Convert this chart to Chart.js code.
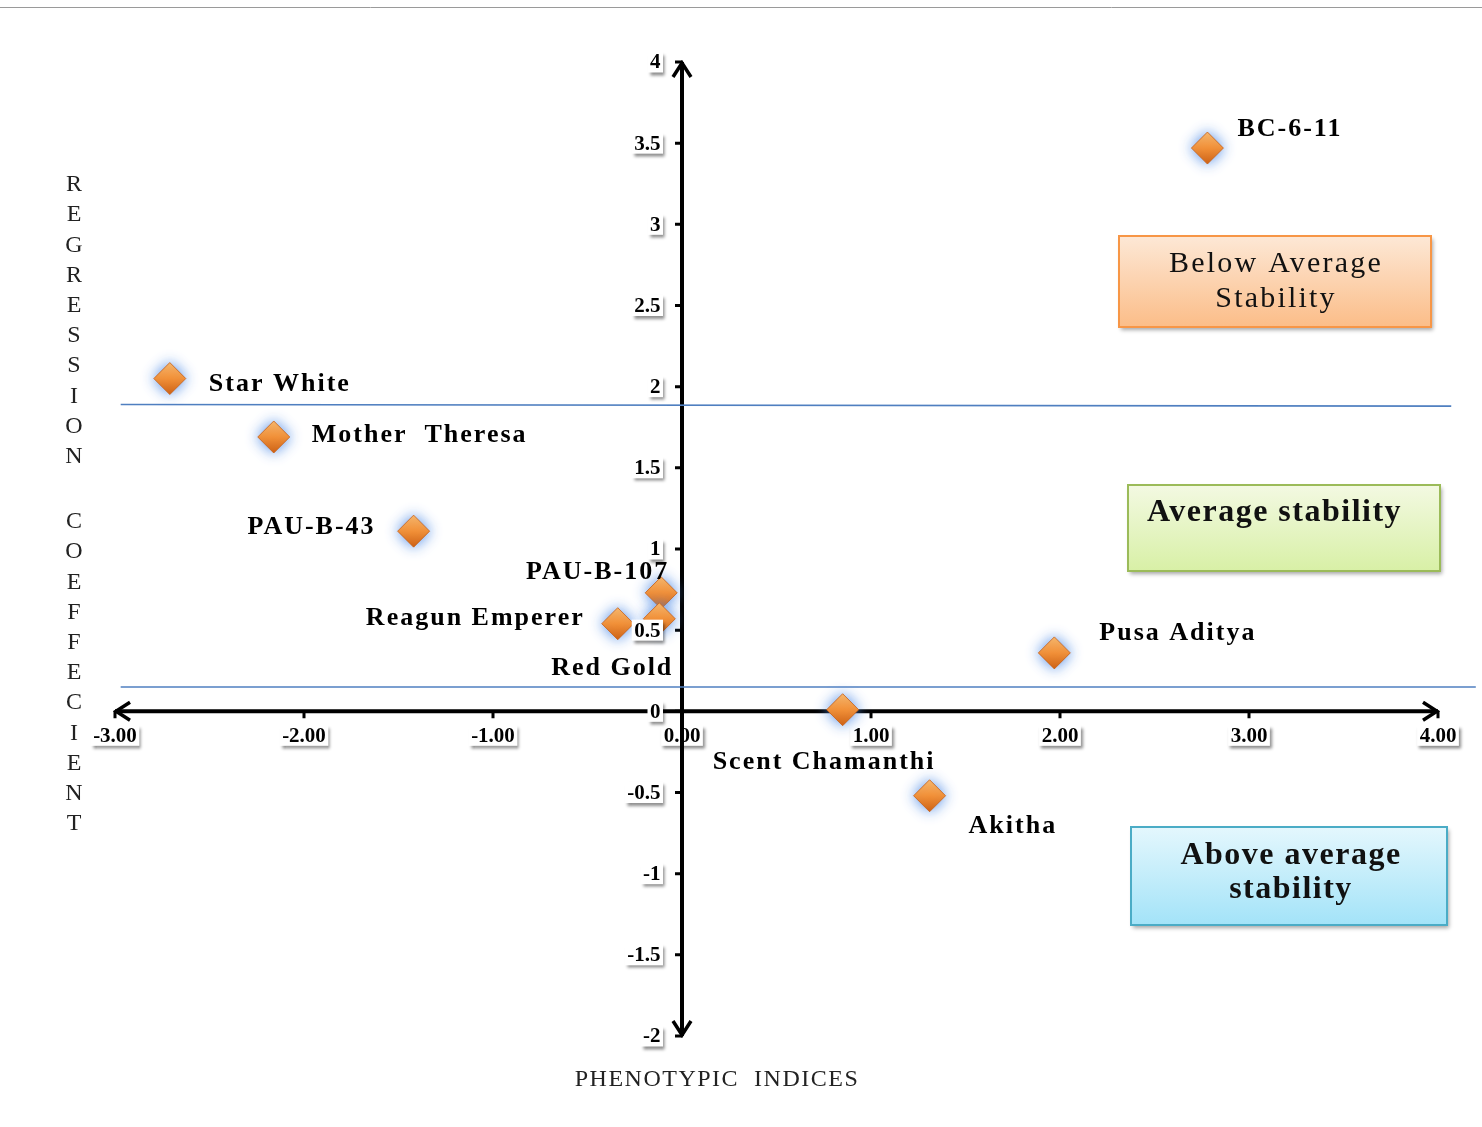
<!DOCTYPE html>
<html lang="en">
<head>
  <meta charset="UTF-8">
  <title>Regression coefficient vs phenotypic indices</title>
  <script src="https://cdn.jsdelivr.net/npm/chart.js"></script>
  <style>
    body { margin: 0; background: #fff; }
    #wrap { width: 1482px; height: 1127px; }
  </style>
</head>
<body>
  <div id="wrap">
    <canvas id="chart" width="1482" height="1127"></canvas>
  </div>

  <script>
    // data
    const varieties = ['BC-6-11', 'Star White', 'Mother  Theresa', 'PAU-B-43', 'PAU-B-107',
                       'Red Gold', 'Reagun Emperer', 'Pusa Aditya', 'Scent Chamanthi', 'Akitha'];
    const phenoIndex = [2.78, -2.71, -2.16, -1.42, -0.11, -0.12, -0.34, 1.97, 0.85, 1.31];
    const regCoef    = [3.47, 2.05, 1.69, 1.11, 0.73, 0.57, 0.54, 0.36, 0.01, -0.52];

    const xTicks = [-3, -2, -1, 0, 1, 2, 3, 4];
    const yTicks = [-2, -1.5, -1, -0.5, 0, 0.5, 1, 1.5, 2, 2.5, 3, 3.5, 4];

    // the two blue reference lines
    const upperLineX = [-2.97, 4.07];
    const upperLineY = [1.89, 1.88];
    const lowerLineX = [-2.97, 4.20];
    const lowerLineY = [0.15, 0.15];

    // label placement relative to each marker: [dx, dy, align]
    const labelPos = [
      [30, -19, 'left'], [39, 6, 'left'], [38, -2, 'left'], [-38, -4, 'right'], [8, -21, 'right'],
      [14, 49, 'right'], [-33, -5, 'right'], [45, -20, 'left'], [-130, 53, 'left'], [39, 31, 'left']
    ];

    const SERIF = '"Liberation Serif", "Times New Roman", serif';

    function diamondFill(c) {
      const chart = c.chart;
      const ys = chart.scales && chart.scales.y;
      if (c.type !== 'data' || !ys) return '#f58a2e';
      const py = ys.getPixelForValue(regCoef[c.dataIndex]);
      if (!isFinite(py)) return '#f58a2e';
      const g = chart.ctx.createLinearGradient(0, py - 16, 0, py + 16);
      g.addColorStop(0, '#fdb866');
      g.addColorStop(0.5, '#f79133');
      g.addColorStop(1, '#d4600c');
      return g;
    }

    function boxedText(ctx, text, x, y, align) {
      ctx.font = 'bold 21px ' + SERIF;
      const w = ctx.measureText(text).width + 5;
      const h = 21;
      const left = align === 'right' ? x - w : x - w / 2;
      ctx.save();
      ctx.shadowColor = 'rgba(0,0,0,0.45)';
      ctx.shadowBlur = 3;
      ctx.shadowOffsetX = 2;
      ctx.shadowOffsetY = 3;
      ctx.fillStyle = '#fff';
      ctx.fillRect(left, y - h / 2, w, h);
      ctx.restore();
      ctx.fillStyle = '#000';
      ctx.textAlign = 'center';
      ctx.textBaseline = 'middle';
      ctx.fillText(text, left + w / 2, y + 1);
    }

    function zoneBox(ctx, x, y, w, h, top, bottom, border) {
      ctx.save();
      ctx.shadowColor = 'rgba(0,0,0,0.35)';
      ctx.shadowBlur = 4;
      ctx.shadowOffsetX = 2;
      ctx.shadowOffsetY = 3;
      const g = ctx.createLinearGradient(0, y, 0, y + h);
      g.addColorStop(0, top);
      g.addColorStop(1, bottom);
      ctx.fillStyle = g;
      ctx.fillRect(x, y, w, h);
      ctx.restore();
      ctx.strokeStyle = border;
      ctx.lineWidth = 2;
      ctx.strokeRect(x, y, w, h);
    }

    const axesPlugin = {
      id: 'crossAxes',
      beforeDraw(chart) {
        const ctx = chart.ctx;
        ctx.save();
        ctx.strokeStyle = '#9a9a9a';
        ctx.lineWidth = 1;
        ctx.beginPath();
        ctx.moveTo(0, 7.5);
        ctx.lineTo(chart.width, 7.5);
        ctx.stroke();
        ctx.restore();
      },
      beforeDatasetsDraw(chart) {
        const ctx = chart.ctx;
        const xs = chart.scales.x, ys = chart.scales.y;
        const x0 = xs.getPixelForValue(0), y0 = ys.getPixelForValue(0);
        ctx.save();
        // x tick labels (under the axis lines)
        xTicks.forEach(v => boxedText(ctx, v.toFixed(2), xs.getPixelForValue(v), y0 + 24, 'center'));

        ctx.strokeStyle = '#000';
        ctx.lineWidth = 4;
        ctx.lineCap = 'butt';
        const xl = xs.getPixelForValue(xTicks[0]), xr = xs.getPixelForValue(xTicks[xTicks.length - 1]);
        const yt = ys.getPixelForValue(yTicks[yTicks.length - 1]), yb = ys.getPixelForValue(yTicks[0]);
        ctx.beginPath();
        ctx.moveTo(xl, y0); ctx.lineTo(xr, y0);
        ctx.moveTo(x0, yb); ctx.lineTo(x0, yt);
        ctx.stroke();

        // arrow heads
        ctx.lineWidth = 3.5;
        ctx.lineJoin = 'miter';
        ctx.beginPath();
        ctx.moveTo(x0 - 9, yt + 15); ctx.lineTo(x0, yt + 1); ctx.lineTo(x0 + 9, yt + 15);
        ctx.moveTo(x0 - 9, yb - 15); ctx.lineTo(x0, yb - 1); ctx.lineTo(x0 + 9, yb - 15);
        ctx.moveTo(xr - 15, y0 - 9); ctx.lineTo(xr - 1, y0); ctx.lineTo(xr - 15, y0 + 9);
        ctx.moveTo(xl + 15, y0 - 9); ctx.lineTo(xl + 1, y0); ctx.lineTo(xl + 15, y0 + 9);
        ctx.stroke();

        // tick marks
        ctx.lineWidth = 3;
        ctx.beginPath();
        yTicks.forEach(v => {
          const p = ys.getPixelForValue(v);
          ctx.moveTo(x0 - 7, p); ctx.lineTo(x0, p);
        });
        xTicks.forEach(v => {
          const p = xs.getPixelForValue(v);
          ctx.moveTo(p, y0); ctx.lineTo(p, y0 + 7);
        });
        ctx.stroke();
        ctx.restore();
      },
      beforeDatasetDraw(chart, args) {
        if (args.index === 0) {
          const ctx = chart.ctx;
          ctx.save();
          ctx.shadowColor = 'rgba(80,140,230,1)';
          ctx.shadowBlur = 14;
        }
      },
      afterDatasetDraw(chart, args) {
        if (args.index === 0) chart.ctx.restore();
      },
      afterDatasetsDraw(chart) {
        const ctx = chart.ctx;
        const xs = chart.scales.x, ys = chart.scales.y;
        const x0 = xs.getPixelForValue(0);
        ctx.save();
        yTicks.forEach(v => boxedText(ctx, String(v), x0 - 19, ys.getPixelForValue(v), 'right'));

        // variety labels
        ctx.font = 'bold 26px ' + SERIF;
        ctx.letterSpacing = '2px';
        ctx.fillStyle = '#000';
        ctx.textBaseline = 'middle';
        varieties.forEach((name, i) => {
          const px = xs.getPixelForValue(phenoIndex[i]);
          const py = ys.getPixelForValue(regCoef[i]);
          const [dx, dy, align] = labelPos[i];
          ctx.textAlign = align;
          ctx.fillText(name, px + dx, py + dy);
        });

        // stability zones
        zoneBox(ctx, 1119, 236, 312, 91, '#fde8d6', '#fbbd88', '#f79646');
        zoneBox(ctx, 1128, 485, 312, 86, '#f3f9e2', '#d8f0a6', '#9bbb59');
        zoneBox(ctx, 1131, 827, 316, 98, '#e4f7fd', '#a3e3f8', '#4bacc6');

        ctx.fillStyle = '#111';
        ctx.textAlign = 'center';
        ctx.font = '30px ' + SERIF;
        ctx.letterSpacing = '2.2px';
        ctx.fillText('Below Average', 1276, 264);
        ctx.fillText('Stability', 1276, 299);

        ctx.font = 'bold 32px ' + SERIF;
        ctx.letterSpacing = '1.5px';
        ctx.textAlign = 'left';
        ctx.fillText('Average stability', 1147, 513);
        ctx.textAlign = 'center';
        ctx.fillText('Above average', 1291, 856);
        ctx.fillText('stability', 1291, 890);

        // axis titles
        ctx.font = '24px ' + SERIF;
        ctx.letterSpacing = '1.5px';
        ctx.fillStyle = '#222';
        ctx.fillText('PHENOTYPIC  INDICES', 717, 1080);
        ctx.letterSpacing = '0px';
        const yTitle = [['REGRESSION', 185], ['COEFFECIENT', 522]];
        yTitle.forEach(([word, start]) => {
          word.split('').forEach((ch, k) => ctx.fillText(ch, 74, start + k * 30.2));
        });
        ctx.restore();
      }
    };

    const ctx = document.getElementById('chart').getContext('2d');
    new Chart(ctx, {
      type: 'scatter',
      data: {
        datasets: [
          {
            label: 'Varieties',
            data: phenoIndex.map((x, i) => ({ x: x, y: regCoef[i] })),
            pointStyle: 'rectRot',
            pointRadius: 16,
            backgroundColor: diamondFill,
            borderColor: '#c75e14',
            borderWidth: 0.8
          },
          {
            type: 'line',
            label: 'upper',
            data: upperLineX.map((x, i) => ({ x: x, y: upperLineY[i] })),
            borderColor: '#4f7fc0',
            borderWidth: 1.6,
            pointRadius: 0,
            clip: false
          },
          {
            type: 'line',
            label: 'lower',
            data: lowerLineX.map((x, i) => ({ x: x, y: lowerLineY[i] })),
            borderColor: '#4f7fc0',
            borderWidth: 1.6,
            pointRadius: 0,
            clip: false
          }
        ]
      },
      options: {
        responsive: false,
        animation: false,
        layout: { padding: { left: 115, right: 44, top: 62, bottom: 91 } },
        plugins: {
          legend: { display: false },
          tooltip: { enabled: false }
        },
        scales: {
          x: { type: 'linear', min: -3, max: 4, display: false },
          y: { type: 'linear', min: -2, max: 4, display: false }
        }
      },
      plugins: [axesPlugin]
    });
  </script>
</body>
</html>
